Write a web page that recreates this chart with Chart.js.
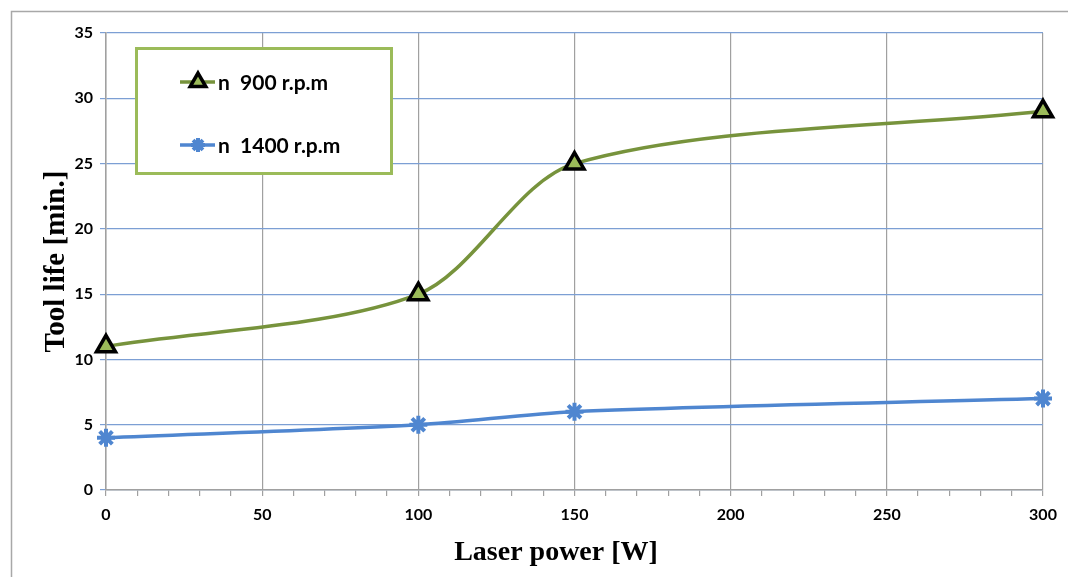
<!DOCTYPE html>
<html>
<head>
<meta charset="utf-8">
<script src="https://cdn.jsdelivr.net/npm/chart.js@4"></script>
<style>
    html, body { margin: 0; padding: 0; background: #ffffff; }
    #wrap { position: relative; width: 1068px; height: 577px; }
</style>
</head>
<body>
<div id="wrap"><canvas id="toolChart" width="1068" height="577"></canvas></div>
<script>
// ── data ──
const laserPower = [0, 100, 150, 300];
const life900 = [11, 15, 25, 29];
const life1400 = [4, 5, 6, 7];
const seriesLabels = ['n  900 r.p.m', 'n  1400 r.p.m'];
const xTitle = 'Laser power [W]';
const yTitle = 'Tool life [min.]';

const GREEN_LINE = '#77933c';
const GREEN_FILL = '#9bbb59';
const BLUE = '#4f86d0';
const GRID_BLUE = '#7c9fd4';
const GRAY = '#a0a0a0';

function toPoints(xs, ys) {
    return xs.map((x, i) => ({ x: x, y: ys[i] }));
}

// outer frame (left + top edges only)
const framePlugin = {
    id: 'frame',
    beforeDraw(chart) {
        const ctx = chart.ctx;
        ctx.save();
        ctx.strokeStyle = '#a8a8a8';
        ctx.lineWidth = 1.5;
        ctx.beginPath();
        ctx.moveTo(11.5, 577);
        ctx.lineTo(11.5, 11.5);
        ctx.lineTo(1068, 11.5);
        ctx.stroke();
        ctx.restore();
    }
};

// x axis title, placed a bit left of the plot centre like the original
const xTitlePlugin = {
    id: 'xTitle',
    afterDraw(chart) {
        const ctx = chart.ctx;
        ctx.save();
        ctx.fillStyle = '#000000';
        ctx.font = 'bold 28px "Liberation Serif"';
        ctx.textAlign = 'center';
        ctx.textBaseline = 'middle';
        ctx.fillText(xTitle, 556, 553);
        ctx.restore();
    }
};

// legend box drawn inside the plot
const boxLegend = {
    id: 'boxLegend',
    afterDatasetsDraw(chart) {
        const ctx = chart.ctx;
        ctx.save();
        ctx.fillStyle = '#ffffff';
        ctx.fillRect(136, 48, 256, 126);
        ctx.strokeStyle = GREEN_FILL;
        ctx.lineWidth = 3;
        ctx.strokeRect(136.5, 48.5, 255, 125);

        const rows = [82, 145];
        const sizes = [9, 7];
        chart.data.datasets.forEach((ds, i) => {
            const y = rows[i];
            ctx.strokeStyle = ds.borderColor;
            ctx.lineWidth = ds.borderWidth;
            ctx.beginPath();
            ctx.moveTo(180, y);
            ctx.lineTo(215, y);
            ctx.stroke();
            ctx.fillStyle = ds.pointBackgroundColor;
            ctx.strokeStyle = ds.pointBorderColor;
            ctx.lineWidth = ds.pointBorderWidth;
            Chart.helpers.drawPoint(ctx, {
                pointStyle: ds.pointStyle,
                radius: sizes[i],
                borderWidth: ds.pointBorderWidth,
                rotation: 0
            }, 198, y);
            ctx.fillStyle = '#000000';
            ctx.font = 'bold 21px Lato';
            ctx.textBaseline = 'middle';
            ctx.textAlign = 'left';
            ctx.fillText(ds.label, 218, y + 1);
        });
        ctx.restore();
    }
};

new Chart(document.getElementById('toolChart'), {
    type: 'line',
    data: {
        datasets: [{
            label: seriesLabels[0],
            data: toPoints(laserPower, life900),
            borderColor: GREEN_LINE,
            borderWidth: 3.5,
            tension: 0.3,
            clip: false,
            pointStyle: 'triangle',
            pointRadius: 11,
            pointBackgroundColor: GREEN_FILL,
            pointBorderColor: '#000000',
            pointBorderWidth: 3.5
        }, {
            label: seriesLabels[1],
            data: toPoints(laserPower, life1400),
            borderColor: BLUE,
            borderWidth: 3.5,
            tension: 0.3,
            clip: false,
            pointStyle: 'star',
            pointRadius: 9,
            pointBackgroundColor: BLUE,
            pointBorderColor: BLUE,
            pointBorderWidth: 4
        }]
    },
    options: {
        responsive: false,
        animation: false,
        layout: { padding: { left: 0, top: 33, right: 25, bottom: 0 } },
        plugins: {
            legend: { display: false },
            tooltip: { enabled: false }
        },
        scales: {
            x: {
                type: 'linear',
                min: 0,
                max: 300,
                afterFit: s => { s.height = 87; },
                ticks: {
                    stepSize: 10,
                    autoSkip: false,
                    maxRotation: 0,
                    padding: 9,
                    color: '#000000',
                    font: { family: 'Lato', weight: 'bold', size: 16 },
                    callback: v => (v % 50 === 0 ? String(v) : '')
                },
                grid: {
                    color: c => (c.tick && c.tick.value % 50 === 0 ? GRAY : 'rgba(0,0,0,0)'),
                    tickColor: GRAY,
                    tickLength: 6,
                    lineWidth: 1.2
                },
                border: { color: GRAY, width: 1.5 }
            },
            y: {
                min: 0,
                max: 35,
                afterFit: s => { s.width = 106; },
                ticks: {
                    stepSize: 5,
                    padding: 7,
                    color: '#000000',
                    font: { family: 'Lato', weight: 'bold', size: 16 }
                },
                grid: {
                    color: GRID_BLUE,
                    tickLength: 6,
                    lineWidth: 1.2
                },
                border: { color: GRAY, width: 1.5 },
                title: {
                    display: true,
                    text: yTitle,
                    color: '#000000',
                    font: { family: 'Liberation Serif', weight: 'bold', size: 29 },
                    padding: { top: 39, bottom: 0 }
                }
            }
        }
    },
    plugins: [framePlugin, boxLegend, xTitlePlugin]
});
</script>
</body>
</html>
